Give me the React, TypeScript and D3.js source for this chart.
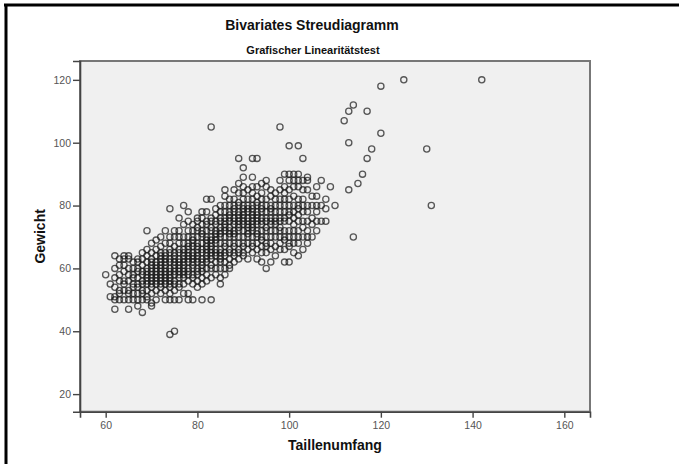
import React, { useEffect, useRef } from 'react';
import * as d3 from 'd3';

const titel = 'Bivariates Streudiagramm';
const untertitel = 'Grafischer Linearitätstest';
const xTitel = 'Taillenumfang';
const yTitel = 'Gewicht';

const xTicks = [60, 80, 100, 120, 140, 160];
const yTicks = [20, 40, 60, 80, 100, 120];

// Taillenumfang -> gemessene Gewichte
const messwerte: [number, number[]][] = [
  [60, [58]],
  [61, [51, 55]],
  [62, [47, 50, 51, 54, 57, 60, 64]],
  [63, [50, 52, 53, 56, 58, 61, 63]],
  [64, [50, 53, 55, 56, 59, 61, 63, 64]],
  [65, [47, 50, 52, 53, 56, 58, 60, 63, 64]],
  [66, [50, 52, 54, 55, 57, 58, 60, 62]],
  [67, [48, 50, 52, 54, 55, 57, 59, 60, 62, 63]],
  [68, [46, 50, 52, 53, 55, 56, 58, 59, 61, 63, 65]],
  [69, [50, 51, 53, 55, 56, 57, 58, 59, 60, 62, 64, 66, 72]],
  [70, [48, 49, 52, 54, 55, 56, 57, 58, 59, 60, 61, 62, 63, 65, 68]],
  [71, [50, 53, 55, 56, 57, 58, 59, 60, 61, 62, 64, 66, 69]],
  [72, [52, 54, 55, 56, 57, 58, 59, 60, 61, 62, 63, 64, 65, 67, 70]],
  [73, [50, 53, 55, 56, 57, 58, 59, 60, 61, 62, 63, 64, 65, 68, 72]],
  [74, [39, 50, 52, 54, 55, 56, 57, 58, 59, 60, 62, 63, 65, 66, 68, 70, 79]],
  [75, [40, 50, 53, 55, 56, 58, 59, 60, 61, 62, 63, 64, 65, 67, 70, 72]],
  [76, [50, 54, 55, 57, 58, 59, 60, 61, 62, 63, 65, 66, 68, 70, 72, 76]],
  [77, [52, 55, 57, 58, 59, 60, 61, 62, 63, 64, 65, 66, 68, 70, 74, 80]],
  [78, [50, 52, 56, 58, 59, 60, 62, 63, 64, 65, 66, 67, 68, 70, 72, 75, 78]],
  [79, [50, 55, 57, 58, 60, 61, 62, 63, 64, 65, 67, 68, 69, 70, 72, 74]],
  [80, [54, 56, 58, 59, 60, 62, 63, 64, 65, 66, 67, 68, 70, 72, 73, 75, 76]],
  [81, [50, 55, 57, 59, 60, 61, 62, 63, 65, 66, 68, 70, 71, 72, 74, 76, 78]],
  [82, [56, 58, 60, 62, 63, 64, 65, 66, 67, 68, 69, 70, 72, 74, 75, 78, 82]],
  [83, [50, 57, 60, 61, 63, 64, 65, 66, 67, 68, 69, 70, 72, 73, 75, 76, 82, 105]],
  [84, [58, 60, 62, 64, 65, 66, 68, 69, 70, 71, 72, 74, 75, 77, 79]],
  [85, [55, 57, 60, 62, 63, 64, 65, 66, 68, 70, 71, 72, 73, 75, 76, 78, 80]],
  [86, [58, 60, 62, 64, 65, 67, 68, 70, 72, 73, 74, 75, 76, 78, 80, 83, 85]],
  [87, [60, 61, 63, 65, 66, 68, 70, 71, 72, 73, 75, 76, 77, 78, 80, 82]],
  [88, [62, 64, 65, 67, 68, 70, 71, 72, 74, 75, 76, 78, 79, 80, 82, 85]],
  [89, [63, 65, 66, 68, 70, 72, 73, 74, 75, 76, 77, 78, 80, 81, 84, 87, 95]],
  [90, [64, 65, 67, 68, 70, 72, 74, 75, 76, 77, 78, 79, 80, 82, 84, 86, 89, 92]],
  [91, [63, 66, 68, 70, 71, 72, 73, 74, 75, 76, 78, 79, 80, 82, 85]],
  [92, [65, 67, 68, 70, 72, 73, 74, 75, 76, 77, 78, 79, 80, 82, 84, 86, 89, 95]],
  [93, [63, 66, 68, 70, 71, 72, 74, 75, 76, 77, 78, 80, 81, 83, 86, 95]],
  [94, [62, 65, 67, 69, 70, 72, 74, 75, 76, 78, 79, 80, 82, 84, 87]],
  [95, [60, 65, 67, 68, 70, 72, 73, 75, 76, 78, 80, 82, 86, 88]],
  [96, [62, 66, 68, 70, 72, 74, 75, 76, 78, 79, 80, 83, 85]],
  [97, [64, 67, 70, 72, 74, 75, 76, 78, 80, 82, 84]],
  [98, [66, 68, 70, 72, 73, 75, 76, 78, 80, 82, 85, 88, 105]],
  [99, [62, 66, 69, 70, 72, 75, 76, 78, 80, 82, 84, 86, 90]],
  [100, [62, 67, 68, 70, 72, 75, 77, 78, 80, 82, 85, 88, 90, 99]],
  [101, [65, 68, 70, 72, 74, 76, 78, 80, 83, 86, 88, 90]],
  [102, [64, 68, 70, 72, 75, 77, 79, 80, 82, 86, 88, 90, 99]],
  [103, [66, 70, 73, 75, 78, 80, 82, 85, 88, 95]],
  [104, [68, 70, 72, 75, 78, 80, 85, 88, 89]],
  [105, [70, 74, 76, 80, 83]],
  [106, [72, 75, 78, 80, 83, 86]],
  [107, [75, 80, 88]],
  [108, [75, 79, 82]],
  [109, [86]],
  [110, [80]],
  [112, [107]],
  [113, [85, 100, 110]],
  [114, [70, 112]],
  [115, [87]],
  [116, [90]],
  [117, [95, 110]],
  [118, [98]],
  [120, [103, 118]],
  [125, [120]],
  [130, [98]],
  [131, [80]],
  [142, [120]],
];

const schrift = '"Liberation Sans", Arial, sans-serif';

export default function App() {
  const ref = useRef<SVGSVGElement>(null);

  useEffect(() => {
    const svg = d3.select(ref.current);
    svg.selectAll('*').remove();

    const left = 80, right = 590, top = 61, bottom = 411.7;
    const x = d3.scaleLinear().domain([54.4, 165.6]).range([left, right]);
    const y = d3.scaleLinear().domain([14.4, 126]).range([bottom, top]);

    const punkte = messwerte.flatMap(([w, gs]) => gs.map(g => ({ w, g })));

    // Rahmen der Grafik (nur oben und links sichtbar)
    svg.append('line').attr('x1', 4).attr('x2', 679).attr('y1', 5).attr('y2', 5)
      .attr('stroke', '#000').attr('stroke-width', 3);
    svg.append('line').attr('x1', 6).attr('x2', 6).attr('y1', 4).attr('y2', 464)
      .attr('stroke', '#000').attr('stroke-width', 3);

    svg.append('text')
      .attr('x', 312).attr('y', 30)
      .attr('text-anchor', 'middle')
      .style('font-family', schrift).style('font-size', '14px').style('font-weight', 'bold')
      .attr('fill', '#111')
      .text(titel);
    svg.append('text')
      .attr('x', 313).attr('y', 54)
      .attr('text-anchor', 'middle')
      .style('font-family', schrift).style('font-size', '11px').style('font-weight', 'bold')
      .attr('fill', '#111')
      .text(untertitel);

    // Plotfläche
    svg.append('rect')
      .attr('x', left).attr('y', top)
      .attr('width', right - left).attr('height', bottom - top)
      .attr('fill', '#f0f0f0')
      .attr('stroke', '#777').attr('stroke-width', 2);

    const yAxis = svg.append('g').attr('transform', `translate(${left},0)`)
      .call(d3.axisLeft(y).tickValues(yTicks).tickSize(7).tickPadding(2));
    const xAxis = svg.append('g').attr('transform', `translate(0,${bottom})`)
      .call(d3.axisBottom(x).tickValues(xTicks).tickSize(6).tickPadding(4));
    [yAxis, xAxis].forEach(a => {
      a.select('.domain').attr('stroke', '#444').attr('stroke-width', 1.6);
      a.selectAll('.tick line').attr('stroke', '#444').attr('stroke-width', 1.4);
      a.selectAll('.tick text')
        .attr('fill', '#555')
        .style('font-family', schrift).style('font-size', '10.5px');
    });

    svg.append('g')
      .selectAll('circle')
      .data(punkte)
      .enter()
      .append('circle')
      .attr('cx', d => x(d.w))
      .attr('cy', d => y(d.g))
      .attr('r', 3.1)
      .attr('fill', 'none')
      .attr('stroke', '#1a1a1a')
      .attr('stroke-opacity', 0.72)
      .attr('stroke-width', 1.3);

    svg.append('text')
      .attr('x', (left + right) / 2).attr('y', 450)
      .attr('text-anchor', 'middle')
      .style('font-family', schrift).style('font-size', '14px').style('font-weight', 'bold')
      .attr('fill', '#111')
      .text(xTitel);
    svg.append('text')
      .attr('transform', `translate(45,${(top + bottom) / 2}) rotate(-90)`)
      .attr('text-anchor', 'middle')
      .style('font-family', schrift).style('font-size', '14px').style('font-weight', 'bold')
      .attr('fill', '#111')
      .text(yTitel);
  }, []);

  return (
    <svg
      ref={ref}
      width={679}
      height={464}
      style={{ position: 'absolute', left: 0, top: 0, background: '#fff' }}
    />
  );
}
